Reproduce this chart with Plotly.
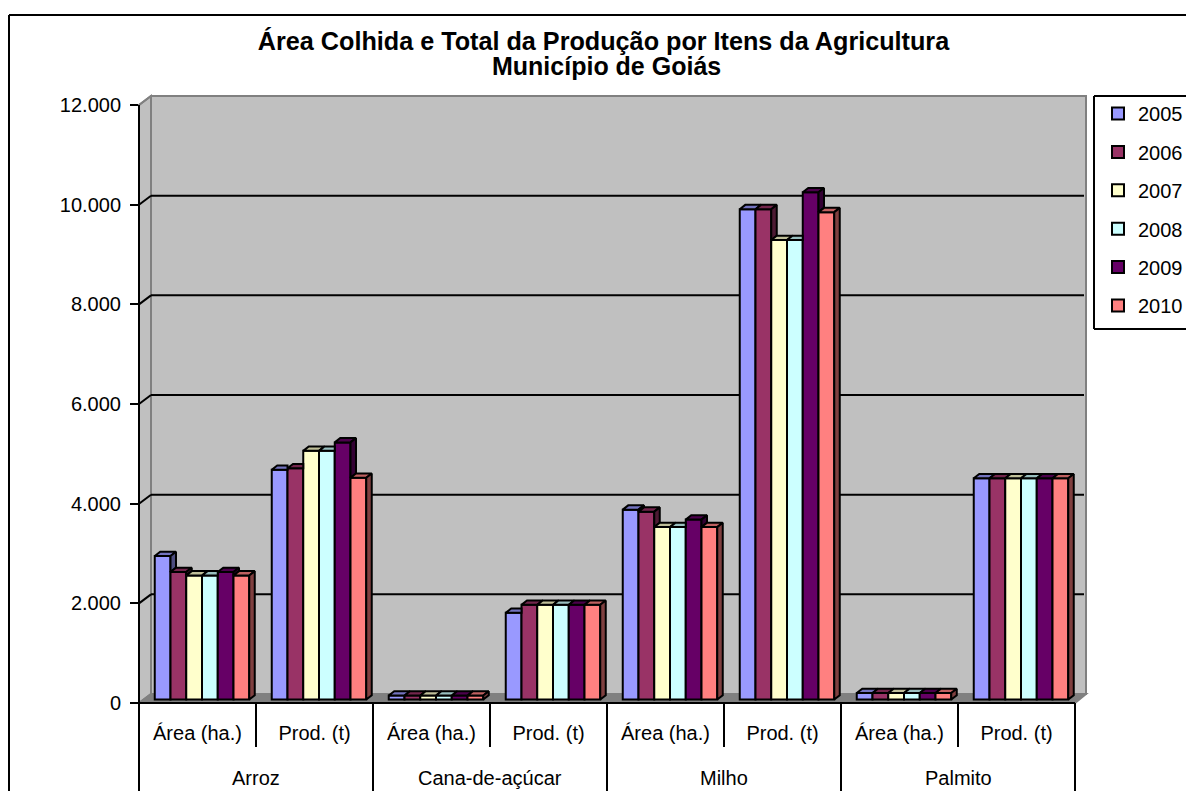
import plotly.graph_objects as go

# Chart data
years = ["2005", "2006", "2007", "2008", "2009", "2010"]
crops = ["Arroz", "Cana-de-açúcar", "Milho", "Palmito"]
measures = ["Área (ha.)", "Prod. (t)"] * 4
y_ticks = [0, 2000, 4000, 6000, 8000, 10000, 12000]
y_tick_labels = ["0", "2.000", "4.000", "6.000", "8.000", "10.000", "12.000"]

values_2005 = [2880, 4610, 80, 1740, 3810, 9840, 130, 4440]
values_2006 = [2560, 4640, 80, 1900, 3770, 9840, 130, 4440]
values_2007 = [2490, 4990, 80, 1900, 3460, 9220, 130, 4440]
values_2008 = [2490, 4990, 80, 1900, 3460, 9220, 130, 4440]
values_2009 = [2560, 5160, 80, 1900, 3610, 10180, 130, 4440]
values_2010 = [2490, 4450, 80, 1900, 3460, 9780, 130, 4440]
series = [values_2005, values_2006, values_2007, values_2008, values_2009, values_2010]

front_colors = ["#9999FF", "#993366", "#FFFFCC", "#CCFFFF", "#660066", "#FF8080"]
top_colors = ["#7373BF", "#73264C", "#BFBF99", "#99BFBF", "#4C004C", "#BF6060"]
side_colors = ["#4D4D80", "#4D1A33", "#808066", "#668080", "#330033", "#804040"]

# Page layout in pixels
W, H = 1186, 791
LEFT, RIGHT, TOP, BOTTOM = 139, 1086, 96, 703
CAT_PX = 117.0
UNIT_PX = 0.04983
BACK_DX, BACK_DY = 12, 9        # offset of the back wall from the front plane
PLANE_DX, PLANE_DY = 4.5, 3.5   # offset of the bar fronts from the front plane
BAR_DX, BAR_DY = 5.5, 4.3       # visible depth of a bar
BAR_PX = 15.75
EDGE = 2


def fx(px):
    return (px - LEFT) / (RIGHT - LEFT)


def fy(py):
    return (BOTTOM - py) / (BOTTOM - TOP)


def line(x0, y0, x1, y1, color="black", width=2, layer="below"):
    return dict(type="line", xref="paper", yref="paper", x0=fx(x0), y0=fy(y0), x1=fx(x1), y1=fy(y1),
                line=dict(color=color, width=width), layer=layer)


def poly(points, fill, color, width=2):
    path = "M" + "L".join(f"{fx(a):.5f},{fy(b):.5f}" for a, b in points) + "Z"
    return dict(type="path", xref="paper", yref="paper", path=path, fillcolor=fill,
                line=dict(color=color, width=width), layer="below")


front_x_left = LEFT
front_x_right = LEFT + CAT_PX * 8
back_left = LEFT + BACK_DX
back_right = RIGHT
y_top_front = BOTTOM - 12000 * UNIT_PX

shapes = [
    # chart frame
    line(9, 15, W + 5, 15, layer="above"),
    line(9, 15, 9, H + 5, layer="above"),
    # walls and floor
    poly([(front_x_left, y_top_front), (back_left, TOP), (back_left, BOTTOM - BACK_DY), (front_x_left, BOTTOM)],
         "#C0C0C0", "#808080"),
    poly([(back_left, TOP), (back_right, TOP), (back_right, BOTTOM - BACK_DY), (back_left, BOTTOM - BACK_DY)],
         "#C0C0C0", "#808080"),
    poly([(front_x_left, BOTTOM), (back_left, BOTTOM - BACK_DY), (back_right, BOTTOM - BACK_DY),
          (front_x_right, BOTTOM)], "#808080", "#808080"),
    # legend box
    line(1094, 96, W + 5, 96, layer="above"),
    line(1094, 96, 1094, 329, layer="above"),
    line(1094, 329, W + 5, 329, layer="above"),
    # value axis and base line
    line(front_x_left, y_top_front, front_x_left, H + 5, layer="above"),
    line(front_x_left, BOTTOM, front_x_right, BOTTOM, layer="above"),
]

# gridlines run across the back wall and down the side wall to the ticks
for t in y_ticks[1:-1]:
    y_front = BOTTOM - t * UNIT_PX
    shapes.append(line(back_left, y_front - BACK_DY, back_right - 2, y_front - BACK_DY))
    shapes.append(line(front_x_left, y_front, back_left, y_front - BACK_DY))
shapes.append(line(front_x_left, y_top_front, back_left, TOP, color="#808080"))

# dividers of the two-level category axis
for i in range(9):
    x = LEFT + CAT_PX * i
    if i % 2 == 0:
        shapes.append(line(x, BOTTOM, x, H + 5, layer="above"))
    else:
        shapes.append(line(x, BOTTOM, x, 747, layer="above"))

fig = go.Figure()

bar_w = BAR_PX / CAT_PX
group_positions = [i + 0.5 for i in range(8)]
plane_x = PLANE_DX / CAT_PX
plane_y = PLANE_DY / UNIT_PX
depth_x = BAR_DX / CAT_PX
depth_y = BAR_DY / UNIT_PX

for s, (name, vals) in enumerate(zip(years, series)):
    fig.add_trace(go.Bar(
        name=name, x=[p + plane_x for p in group_positions], y=vals, base=[plane_y] * 8,
        marker=dict(color=front_colors[s], line=dict(color="black", width=EDGE)),
        legendgroup=name,
    ))

# Top and side faces are built from the same values; parts covered by the next
# bar's front are left out because bar traces sit underneath scatter traces.
for s in range(6):
    for g, p in enumerate(group_positions):
        left = p + plane_x + (s - 3) * bar_w
        right = left + bar_w
        h = series[s][g] + plane_y
        next_h = series[s + 1][g] + plane_y if s < 5 else plane_y
        top_right = right + depth_x if next_h <= h else right
        top_x = [left, left + depth_x, top_right, right, left]
        top_y = [h, h + depth_y, h + depth_y, h, h]
        fig.add_trace(go.Scatter(x=top_x, y=top_y, mode="lines", fill="toself", fillcolor=top_colors[s],
                                 line=dict(color="black", width=EDGE), showlegend=False, hoverinfo="skip"))
        if h > next_h:
            side_x = [right, right + depth_x, right + depth_x, right, right]
            side_y = [h, h + depth_y, next_h + depth_y, next_h, h]
            fig.add_trace(go.Scatter(x=side_x, y=side_y, mode="lines", fill="toself", fillcolor=side_colors[s],
                                     line=dict(color="black", width=EDGE), showlegend=False, hoverinfo="skip"))

annotations = [
    dict(text=c, x=2 * i + 1, y=fy(778), xref="x", yref="paper", showarrow=False, yanchor="middle",
         font=dict(size=20, color="black"))
    for i, c in enumerate(crops)
]
# second line of the heading
annotations.append(dict(text="<b>Município de Goiás</b>", x=fx(606), y=fy(65.5), xref="paper", yref="paper",
                        showarrow=False, xanchor="center", yanchor="middle", font=dict(size=25, color="black")))

fig.update_layout(
    width=W, height=H,
    margin=dict(l=LEFT, r=W - RIGHT, t=TOP, b=H - BOTTOM, pad=0, autoexpand=False),
    paper_bgcolor="white", plot_bgcolor="rgba(0,0,0,0)",
    font=dict(family="Liberation Sans, Arial, sans-serif", size=20, color="black"),
    barmode="group", bargap=1 - 6 * bar_w, bargroupgap=0,
    title=dict(text="<b>Área Colhida e Total da Produção por Itens da Agricultura</b>",
               x=603.5 / W, xanchor="center", y=1 - 41 / H, yanchor="middle",
               font=dict(size=25.2, color="black")),
    xaxis=dict(range=[0, (RIGHT - LEFT) / CAT_PX], tickmode="array", tickvals=group_positions, ticktext=measures,
               ticks="", showgrid=False, zeroline=False, showline=False, ticklabelstandoff=16,
               tickfont=dict(size=20, color="black")),
    yaxis=dict(range=[0, (BOTTOM - TOP) / UNIT_PX], tickmode="array", tickvals=y_ticks, ticktext=y_tick_labels,
               ticks="outside", ticklen=8, tickwidth=2, tickcolor="black", showgrid=False, zeroline=False,
               showline=False, ticklabelstandoff=5, tickfont=dict(size=20, color="black")),
    legend=dict(x=fx(1098), xanchor="left", y=fy(94), yanchor="top", bgcolor="rgba(0,0,0,0)", borderwidth=0,
                tracegroupgap=9.4, itemwidth=30, font=dict(size=20, color="black"), traceorder="grouped"),
    shapes=shapes, annotations=annotations, hovermode=False,
)

fig.write_html("out.html")
